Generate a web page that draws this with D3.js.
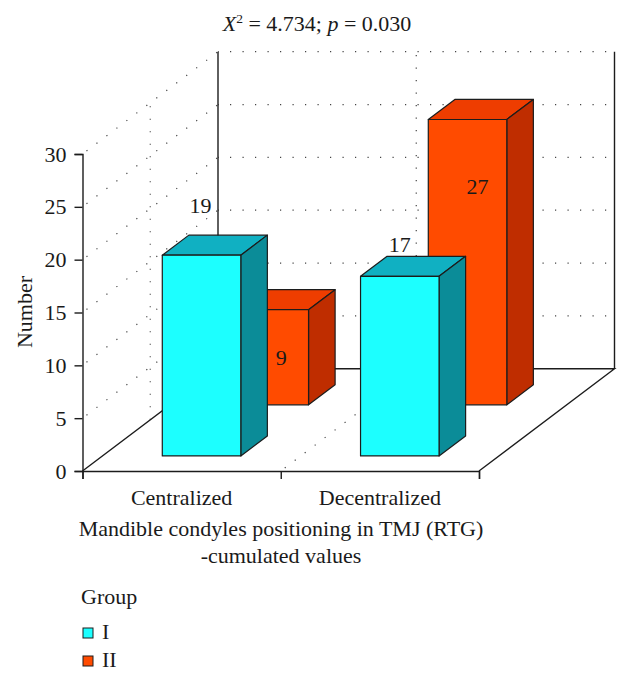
<!DOCTYPE html>
<html><head><meta charset="utf-8">
<script src="https://cdn.jsdelivr.net/npm/d3@7"></script>
<style>
html,body{margin:0;padding:0;background:#fff}
svg{display:block}
text{font-family:"Liberation Serif",serif;fill:#1a1a1a}
</style></head><body>
<svg id="c" width="630" height="680"></svg>
<script>
const categories=["Centralized","Decentralized"];
const groups=["I","II"];
const groupI=[19,17];
const groupII=[9,27];
const yTicks=[0,5,10,15,20,25,30];
const xAxisTitle=["Mandible condyles positioning in TMJ (RTG)","-cumulated values"];
const yAxisTitle="Number";
const legendTitle="Group";
const colors={I:{front:"#1cffff",top:"#10b0c2",side:"#0b8c98"},II:{front:"#ff4b00",top:"#ee3d00",side:"#bf2d00"}};

const svg=d3.select("#c");
const FONT=22;
const y=d3.scaleLinear().domain([0,30]).range([471,154]);
const x=d3.scaleLinear().domain([0,2]).range([82.5,479]);
const band=d3.scaleBand().domain(categories).range([82.5,479]);
const zx=d3.scaleLinear().domain([0,1]).range([0,135.5]);
const zy=d3.scaleLinear().domain([0,1]).range([0,-102.3]);
const P=(cx,z,v)=>[x(cx)+zx(z),y(v)+zy(z)];
const line=d3.line();
const ink="#1c1c1c";

// grid
const grid=svg.append("g").attr("fill","none").attr("stroke","#444").attr("stroke-width",1.2).attr("stroke-dasharray","1.2 11.3");
yTicks.slice(1).forEach(v=>{
  grid.append("path").attr("d",line([P(0,1,v),P(2,1,v)])).attr("stroke-dashoffset",-12);
  grid.append("path").attr("d",line([P(0,0,v),P(0,1,v)])).attr("stroke-dashoffset",-5);
});
grid.append("path").attr("d",line([P(1,1,0),P(1,1,30)]));
grid.append("path").attr("d",line([P(0,.5,0),P(0,.5,30)]));
grid.append("path").attr("d",line([P(1,0,0),P(1,1,0)])).attr("stroke-dashoffset",-5);

// walls and floor edges
const frame=svg.append("g").attr("fill","none").attr("stroke",ink).attr("stroke-width",1.4);
frame.append("path").attr("d",line([P(0,0,0),P(0,1,0),P(2,1,0),P(2,0,0)]));
frame.append("path").attr("d",line([P(0,1,0),P(0,1,30)]));
frame.append("path").attr("d",line([P(2,1,0),P(2,1,30)]));

// axes
const yAxis=svg.append("g").attr("transform","translate(82.5,0)")
  .call(d3.axisLeft(y).tickValues(yTicks).tickSize(8).tickPadding(8));
const xAxis=svg.append("g").attr("transform","translate(0,471)")
  .call(d3.axisBottom(x).tickValues([0,1,2]).tickSize(8).tickFormat(""));
const xLabels=svg.append("g").attr("transform","translate(0,471)")
  .call(d3.axisBottom(band).tickSize(0).tickPadding(18));
xLabels.select(".domain").remove();
[yAxis,xAxis].forEach(a=>{a.selectAll("path,line").attr("stroke",ink).attr("stroke-width",1.4);});
svg.selectAll("g .tick text").attr("font-family",'"Liberation Serif",serif').attr("font-size",FONT).attr("fill","#1a1a1a");

// bars
const barW=0.396,x0=0.302,zDepth=0.196,zNear={I:0.147,II:0.647};
function bar(g,i,v,grp){
  const c=colors[grp],xa=i+x0,xb=xa+barW,z0=zNear[grp],z1=z0+zDepth;
  const face=(pts,f)=>g.append("path").attr("d",line(pts)+"Z").attr("fill",f)
     .attr("stroke",ink).attr("stroke-width",1.2).attr("stroke-linejoin","round");
  face([P(xa,z0,v),P(xb,z0,v),P(xb,z1,v),P(xa,z1,v)],c.top);
  face([P(xb,z0,0),P(xb,z1,0),P(xb,z1,v),P(xb,z0,v)],c.side);
  face([P(xa,z0,0),P(xb,z0,0),P(xb,z0,v),P(xa,z0,v)],c.front);
}
const bars=svg.append("g");
groupII.forEach((v,i)=>bar(bars,i,v,"II"));
groupI.forEach((v,i)=>bar(bars,i,v,"I"));

// value labels
const labelNudge={I:[[-1,-42],[0,-24]],II:[[12,55],[10,74]]};
[["I",groupI],["II",groupII]].forEach(([grp,vals])=>{
  vals.forEach((v,i)=>{
    const p=P(i+x0+barW/2,zNear[grp],v),n=labelNudge[grp][i];
    svg.append("text").attr("x",p[0]+n[0]).attr("y",p[1]+n[1]).attr("text-anchor","middle")
      .attr("font-size",FONT).text(v);
  });
});

// title
const t=svg.append("text").attr("x",317).attr("y",31).attr("text-anchor","middle").attr("font-size",FONT);
t.append("tspan").attr("font-style","italic").text("X");
t.append("tspan").attr("font-size",13.5).attr("dy",-8).text("2");
t.append("tspan").attr("dy",8).text(" = 4.734; ");
t.append("tspan").attr("font-style","italic").text("p");
t.append("tspan").text(" = 0.030");

// axis titles
svg.append("text").attr("transform","translate(32,312) rotate(-90)").attr("text-anchor","middle").attr("font-size",FONT).text(yAxisTitle);
xAxisTitle.forEach((s,i)=>svg.append("text").attr("x",281).attr("y",536+i*26.5).attr("text-anchor","middle").attr("font-size",FONT).text(s));

// legend
svg.append("text").attr("x",81).attr("y",604).attr("font-size",FONT).text(legendTitle);
groups.forEach((g,i)=>{
  const yy=628+i*28;
  svg.append("rect").attr("x",83).attr("y",yy).attr("width",10).attr("height",10)
    .attr("fill",colors[g].front).attr("stroke",ink).attr("stroke-width",1);
  svg.append("text").attr("x",102).attr("y",yy+10.5).attr("font-size",FONT).text(g);
});
</script>
</body></html>
